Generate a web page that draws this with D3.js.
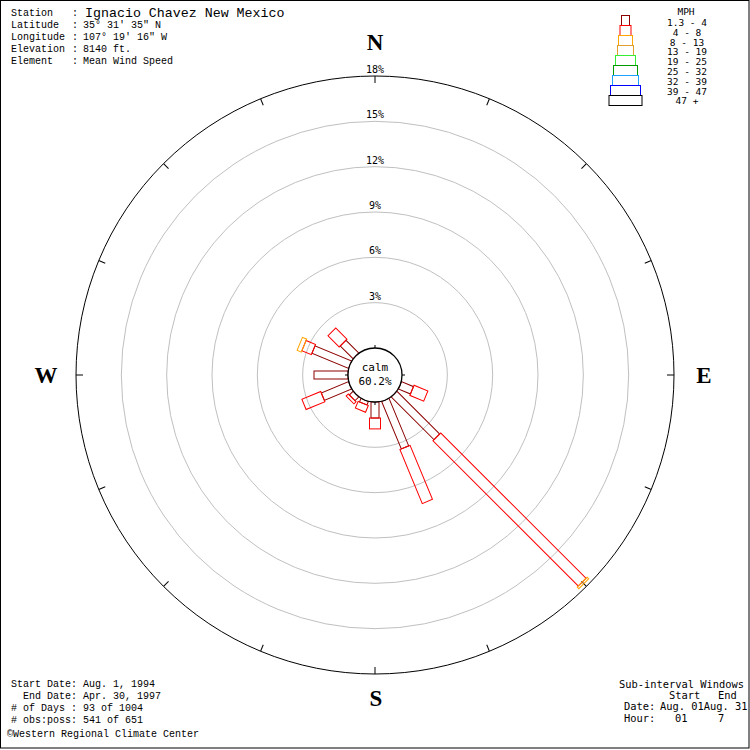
<!DOCTYPE html>
<html>
<head>
<meta charset="utf-8">
<script src="https://cdn.jsdelivr.net/npm/d3@7"></script>
<style>
  body { margin: 0; background: #fff; }
  text { white-space: pre; }
</style>
</head>
<body>
<div id="chart"></div>
<script>
// Wind rose - Ignacio Chavez, New Mexico (mean wind speed)

const directions = ["N", "NNE", "NE", "ENE", "E", "ESE", "SE", "SSE", "S", "SSW", "SW", "WSW", "W", "WNW", "NW", "NNW"];
const speedClasses = ["1.3 - 4", "4 - 8", "8 - 13", "13 - 19", "19 - 25", "25 - 32", "32 - 39", "39 - 47", "47 +"];
const classColors = ["#8b0000", "#ff0000", "#ffa500", "#e0a030", "#33ee33", "#009900", "#1ea0ff", "#0000ff", "#000000"];

// percent of observations per direction, one array per speed class
const pct_1_4   = [0, 0, 0, 0, 0, 0.86, 4.0, 3.4, 1.06, 0.25, 0.35, 1.95, 2.25, 2.62, 1.2, 0];
const pct_4_8   = [0, 0, 0, 0, 0, 0.99, 13.6, 3.87, 0.72, 0.48, 0.2, 1.35, 0, 0.68, 1.05, 0];
const pct_8_13  = [0, 0, 0, 0, 0, 0, 0.15, 0, 0, 0, 0, 0, 0, 0.3, 0, 0];
const pct_13_19 = [0, 0, 0, 0, 0, 0, 0, 0, 0, 0, 0, 0, 0, 0, 0, 0];
const pct_19_25 = [0, 0, 0, 0, 0, 0, 0, 0, 0, 0, 0, 0, 0, 0, 0, 0];
const pct_25_32 = [0, 0, 0, 0, 0, 0, 0, 0, 0, 0, 0, 0, 0, 0, 0, 0];
const pct_32_39 = [0, 0, 0, 0, 0, 0, 0, 0, 0, 0, 0, 0, 0, 0, 0, 0];
const pct_39_47 = [0, 0, 0, 0, 0, 0, 0, 0, 0, 0, 0, 0, 0, 0, 0, 0];
const pct_47    = [0, 0, 0, 0, 0, 0, 0, 0, 0, 0, 0, 0, 0, 0, 0, 0];
const classSeries = [pct_1_4, pct_4_8, pct_8_13, pct_13_19, pct_19_25, pct_25_32, pct_32_39, pct_39_47, pct_47];

const ringTicks = [3, 6, 9, 12, 15, 18];
const calmPct = "60.2%";

const headerLabels = ["Station", "Latitude", "Longitude", "Elevation", "Element"];
const headerValues = ["Ignacio Chavez New Mexico", "35\u00b0 31' 35\" N", "107\u00b0 19' 16\" W", "8140 ft.", "Mean Wind Speed"];
const footerLines = ["Start Date: Aug. 1, 1994", "  End Date: Apr. 30, 1997", "# of Days : 93 of 1004", "# obs:poss: 541 of 651"];

const W = 750, H = 750;
const cx = 375, cy = 375;
const calmR = 27;
const mono = "'Liberation Mono', 'DejaVu Sans Mono', monospace";
const sansMono = "'DejaVu Sans Mono', monospace";

const svg = d3.select('#chart')
    .append('svg')
    .attr('width', W)
    .attr('height', H)
    .style('background', '#fff');

// radial scale: percent -> pixels from center
const r = d3.scaleLinear().domain([0, 18]).range([calmR, 299]);
const bandWidth = d3.scaleOrdinal().domain(speedClasses).range([8, 11, 14, 16, 20, 24, 26, 30, 33]);
const color = d3.scaleOrdinal().domain(speedClasses).range(classColors);
const angle = d3.scalePoint().domain(directions.concat(["_"])).range([0, 360]);

const rose = svg.append('g').attr('transform', `translate(${cx},${cy})`);

// grey rings and percent labels
ringTicks.forEach(t => {
    rose.append('circle')
        .attr('r', r(t))
        .attr('fill', 'none')
        .attr('stroke', t === 18 ? '#000' : '#c0c0c0')
        .attr('stroke-width', 1);
    rose.append('text')
        .attr('x', 0)
        .attr('y', -r(t) - 3)
        .attr('text-anchor', 'middle')
        .attr('font-family', sansMono)
        .attr('font-size', 10)
        .text(t + '%');
});

// ticks on outer ring
directions.forEach(d => {
    rose.append('line')
        .attr('transform', `rotate(${angle(d)})`)
        .attr('x1', 0).attr('x2', 0)
        .attr('y1', -r(18)).attr('y2', -r(18) + 7)
        .attr('stroke', '#000');
});

// petals: stacked outlined bars per direction
directions.forEach((d, i) => {
    const g = rose.append('g').attr('transform', `rotate(${angle(d)})`);
    let cum = 0;
    speedClasses.forEach((c, k) => {
        const v = classSeries[k][i];
        if (v <= 0) return;
        const r0 = r(cum), r1 = r(cum + v);
        cum += v;
        g.append('rect')
            .attr('x', -bandWidth(c) / 2)
            .attr('y', -r1)
            .attr('width', bandWidth(c))
            .attr('height', r1 - r0)
            .attr('fill', 'none')
            .attr('stroke', color(c))
            .attr('stroke-width', 1);
    });
});

// calm circle
rose.append('circle')
    .attr('r', calmR)
    .attr('fill', '#fff')
    .attr('stroke', '#000')
    .attr('stroke-width', 1.3);
["N", "E", "S", "W"].forEach(d => {
    rose.append('line')
        .attr('transform', `rotate(${angle(d)})`)
        .attr('x1', 0).attr('x2', 0)
        .attr('y1', -calmR).attr('y2', -calmR - 3)
        .attr('stroke', '#000');
});
rose.append('text')
    .attr('x', 0).attr('y', -4)
    .attr('text-anchor', 'middle')
    .attr('font-family', sansMono)
    .attr('font-size', 11)
    .text('calm');
rose.append('text')
    .attr('x', 0).attr('y', 10)
    .attr('text-anchor', 'middle')
    .attr('font-family', sansMono)
    .attr('font-size', 11)
    .text(calmPct);

// compass letters
const compass = [["N", 375, 50], ["E", 704, 383], ["S", 376, 706], ["W", 46, 383]];
compass.forEach(([t, x, y]) => {
    svg.append('text')
        .attr('x', x).attr('y', y)
        .attr('text-anchor', 'middle')
        .attr('font-family', "'Liberation Serif', 'DejaVu Serif', serif")
        .attr('font-weight', 'bold')
        .attr('font-size', 23)
        .text(t);
});

// station header
headerLabels.forEach((lab, i) => {
    const y = 16 + i * 12;
    svg.append('text')
        .attr('x', 11).attr('y', y)
        .attr('font-family', mono)
        .attr('font-size', 10)
        .text(lab);
    svg.append('text')
        .attr('x', 72).attr('y', y)
        .attr('font-family', mono)
        .attr('font-size', 10)
        .text(':');
    svg.append('text')
        .attr('x', i === 0 ? 85 : 83).attr('y', i === 0 ? 17 : y)
        .attr('font-family', mono)
        .attr('font-size', i === 0 ? 13.3 : 10)
        .text(headerValues[i]);
});

// legend
const legend = svg.append('g');
legend.append('text')
    .attr('x', 686).attr('y', 15)
    .attr('text-anchor', 'middle')
    .attr('font-family', sansMono)
    .attr('font-size', 9.5)
    .text('MPH');
speedClasses.forEach((c, k) => {
    const top = 15 + k * 10;
    legend.append('rect')
        .attr('x', 625 - bandWidth(c) / 2 + 0.5)
        .attr('y', top + 0.5)
        .attr('width', bandWidth(c))
        .attr('height', 10)
        .attr('fill', 'none')
        .attr('stroke', color(c));
    legend.append('text')
        .attr('x', 687).attr('y', 26 + k * 9.8)
        .attr('text-anchor', 'middle')
        .attr('font-family', sansMono)
        .attr('font-size', 9.5)
        .text(c);
});

// footer, left
footerLines.forEach((t, i) => {
    svg.append('text')
        .attr('x', 11).attr('y', 687 + i * 12)
        .attr('font-family', mono)
        .attr('font-size', 10)
        .text(t);
});
svg.append('text')
    .attr('x', 7).attr('y', 737)
    .attr('font-family', mono)
    .attr('font-size', 10)
    .text('\u00a9Western Regional Climate Center');

// footer, right
const rightLines = [
    ["Sub-interval Windows", 619, 688],
    ["Start", 669, 699],
    ["End", 718, 699],
    ["Date:", 624, 710],
    ["Aug. 01Aug. 31", 660, 710],
    ["Hour:", 624, 722],
    ["01", 675, 722],
    ["7", 718, 722]
];
rightLines.forEach(([t, x, y]) => {
    svg.append('text')
        .attr('x', x).attr('y', y)
        .attr('font-family', sansMono)
        .attr('font-size', 10.4)
        .text(t);
});

// frame
svg.append('rect')
    .attr('x', 0.5).attr('y', 0.5)
    .attr('width', 748.5).attr('height', 747.5)
    .attr('fill', 'none')
    .attr('stroke', '#000');
</script>
</body>
</html>
